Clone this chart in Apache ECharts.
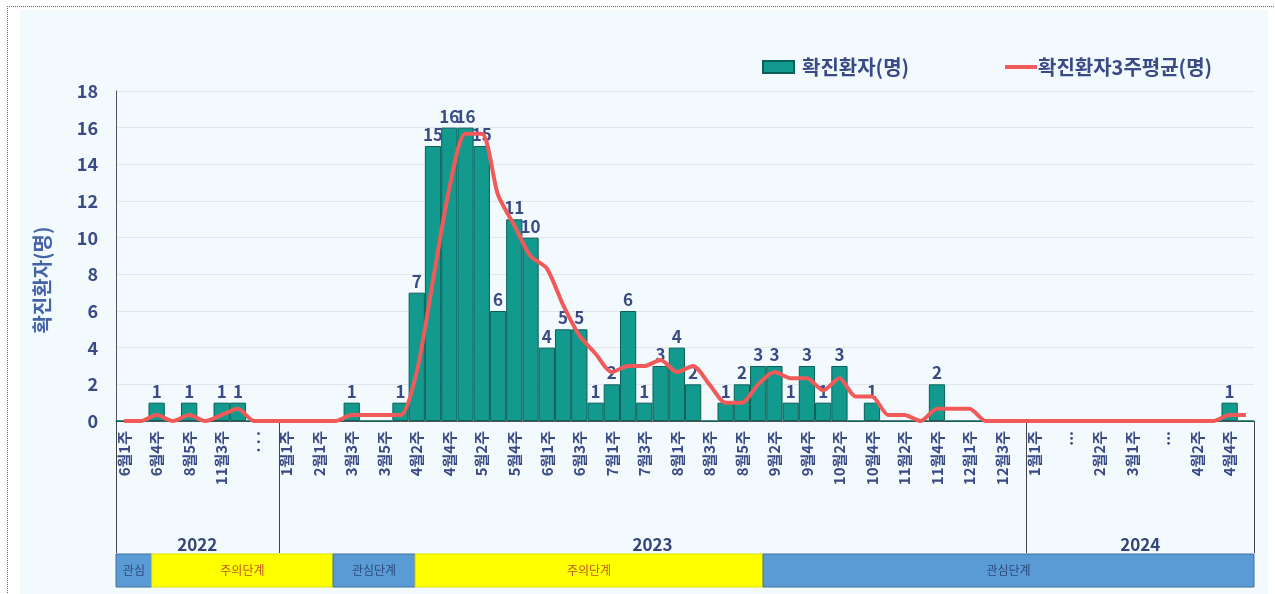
<!DOCTYPE html>
<html>
<head>
<meta charset="utf-8">
<script src="https://cdn.jsdelivr.net/npm/echarts@6/dist/echarts.min.js"></script>
<style>
  html, body { margin: 0; padding: 0; background: #fff; }
  #frame { position: absolute; left: 7px; top: 6px; width: 1300px; height: 600px;
           border-left: 1px dotted #666; border-top: 1px dotted #666; }
  #bg { position: absolute; left: 20px; top: 10px; width: 1248px; height: 584px; background: #f3fafd; }
  #chart { position: absolute; left: 0; top: 0; width: 1275px; height: 594px; }
</style>
</head>
<body>
<div id="frame"></div>
<div id="bg"></div>
<div id="chart"></div>
<script>
// 주차 라벨 (두 칸마다 하나씩 표시)
var weeks = ['6월1주', '', '6월4주', '', '8월5주', '', '11월3주', '', '. . .', '',
    '1월1주', '', '2월1주', '', '3월3주', '', '3월5주', '', '4월2주', '',
    '4월4주', '', '5월2주', '', '5월4주', '', '6월1주', '', '6월3주', '',
    '7월1주', '', '7월3주', '', '8월1주', '', '8월3주', '', '8월5주', '',
    '9월2주', '', '9월4주', '', '10월2주', '', '10월4주', '', '11월2주', '',
    '11월4주', '', '12월1주', '', '12월3주', '', '1월1주', '', '...', '',
    '2월2주', '', '3월1주', '', '...', '', '4월2주', '', '4월4주', ''];

var cases = [0, 0, 1, 0, 1, 0, 1, 1, 0, 0,
    0, 0, 0, 0, 1, 0, 0, 1, 7, 15,
    16, 16, 15, 6, 11, 10, 4, 5, 5, 1,
    2, 6, 1, 3, 4, 2, 0, 1, 2, 3,
    3, 1, 3, 1, 3, 0, 1, 0, 0, 0,
    2, 0, 0, 0, 0, 0, 0, 0, 0, 0,
    0, 0, 0, 0, 0, 0, 0, 0, 1, 0];

var avg3 = [0, 0, 0.33, 0, 0.33, 0, 0.33, 0.67, 0, 0,
    0, 0, 0, 0, 0.33, 0.33, 0.33, 0.33, 2.67, 7.67,
    12.67, 15.67, 15.67, 12.33, 10.67, 9, 8.33, 6.33, 4.67, 3.67,
    2.67, 3, 3, 3.33, 2.67, 3, 2, 1, 1, 2,
    2.67, 2.33, 2.33, 1.67, 2.33, 1.33, 1.33, 0.33, 0.33, 0,
    0.67, 0.67, 0.67, 0, 0, 0, 0, 0, 0, 0,
    0, 0, 0, 0, 0, 0, 0, 0, 0.33, 0.33];

// 연도 구간 (카테고리 경계)
var years = ['2022', '2023', '2024'];
var yearBounds = [0, 10, 56, 70];

// 위기단계 구간 (카테고리 경계, 그림에서 읽은 값)
var phaseNames = ['관심', '주의단계', '관심단계', '주의단계', '관심단계'];
var phaseBounds = [0, 2.2, 13.35, 18.4, 39.8, 70];
var phaseLevel = ['blue', 'yellow', 'blue', 'yellow', 'blue'];

var FONT = '"Noto Sans CJK KR", "Noto Sans", sans-serif';
var textBlue = '#3a4a86';

var myChart = echarts.init(document.getElementById('chart'));

var option = {
    backgroundColor: 'transparent',
    textStyle: { fontFamily: FONT },
    animation: false,
    grid: { left: 116, right: 21, top: 91, bottom: 173 },
    legend: [{
        data: ['확진환자(명)'],
        left: 757, top: 52,
        itemWidth: 31, itemHeight: 12,
        icon: 'rect',
        textStyle: { fontSize: 20, fontWeight: 'bold', color: textBlue, fontFamily: FONT, padding: [0, 0, 0, 3] }
    }, {
        data: ['확진환자3주평균(명)'],
        left: 1000, top: 52,
        itemWidth: 32, itemHeight: 4,
        icon: 'rect',
        textStyle: { fontSize: 20, fontWeight: 'bold', color: textBlue, fontFamily: FONT, padding: [0, 0, 0, -4] }
    }],
    xAxis: {
        type: 'category',
        data: weeks,
        axisLine: { lineStyle: { color: '#555', width: 1 } },
        axisTick: { show: false },
        axisLabel: {
            interval: 0,
            rotate: 90,
            margin: 10,
            fontSize: 15,
            fontWeight: 'bold',
            color: textBlue,
            fontFamily: FONT
        }
    },
    yAxis: {
        type: 'value',
        min: 0, max: 18, interval: 2,
        name: '확진환자(명)',
        nameLocation: 'middle',
        nameRotate: 90,
        nameGap: 64,
        nameTextStyle: { fontSize: 20, fontWeight: 'bold', color: '#4463a8', fontFamily: FONT, padding: [0, 0, 0, -48] },
        axisLine: { show: true, lineStyle: { color: '#555', width: 1 } },
        axisTick: { show: false },
        axisLabel: { margin: 18, fontSize: 18, fontWeight: 'bold', color: textBlue, fontFamily: FONT },
        splitLine: { lineStyle: { color: '#e2e6ea' } }
    },
    series: [{
        name: '확진환자(명)',
        type: 'bar',
        data: cases,
        barCategoryGap: '0%',
        itemStyle: { color: '#119a8d', borderColor: '#0a5f58', borderWidth: 1 },
        label: {
            show: true,
            position: 'top',
            distance: 3,
            fontSize: 17,
            fontWeight: 'bold',
            color: textBlue,
            fontFamily: FONT,
            formatter: function (p) { return p.value ? p.value : ''; }
        }
    }, {
        name: '확진환자3주평균(명)',
        type: 'line',
        data: avg3,
        symbol: 'none',
        smooth: 0.25,
        z: 3,
        lineStyle: { color: '#f25a5a', width: 4 },
        itemStyle: { color: '#f25a5a' }
    }]
};
myChart.setOption(option);

// 하단 표 (연도 / 위기단계)
function edge(b) {
    var c0 = myChart.convertToPixel({ xAxisIndex: 0 }, 0);
    var c1 = myChart.convertToPixel({ xAxisIndex: 0 }, 1);
    return c0 + (b - 0.5) * (c1 - c0);
}
var y0 = myChart.convertToPixel({ yAxisIndex: 0 }, 0);
var tableBottom = y0 + 132;
var phaseH = 33;

var g = [];
yearBounds.forEach(function (b) {
    var x = Math.round(edge(b)) + 0.5;
    g.push({ type: 'line', shape: { x1: x, y1: y0, x2: x, y2: tableBottom },
        style: { stroke: '#444', lineWidth: 1 }, silent: true });
});
years.forEach(function (yr, k) {
    var xm = (edge(yearBounds[k]) + edge(yearBounds[k + 1])) / 2;
    g.push({ type: 'text', x: xm, y: tableBottom - 8,
        style: { text: yr, fill: '#34457a', font: 'bold 17px ' + FONT, align: 'center', verticalAlign: 'middle' } });
});
phaseNames.forEach(function (nm, k) {
    var xa = edge(phaseBounds[k]), xb = edge(phaseBounds[k + 1]);
    var isBlue = phaseLevel[k] === 'blue';
    g.push({ type: 'rect', shape: { x: xa, y: tableBottom + 1, width: xb - xa, height: phaseH },
        style: { fill: isBlue ? '#5b9bd5' : '#ffff00', stroke: isBlue ? '#41719c' : '#e0e000', lineWidth: 1 } });
    g.push({ type: 'text', x: (xa + xb) / 2, y: tableBottom + 1 + phaseH / 2,
        style: { text: nm, fill: isBlue ? '#2c4a7c' : '#c0581a', font: '12px ' + FONT, align: 'center', verticalAlign: 'middle' } });
});
myChart.setOption({ graphic: g });
</script>
</body>
</html>
